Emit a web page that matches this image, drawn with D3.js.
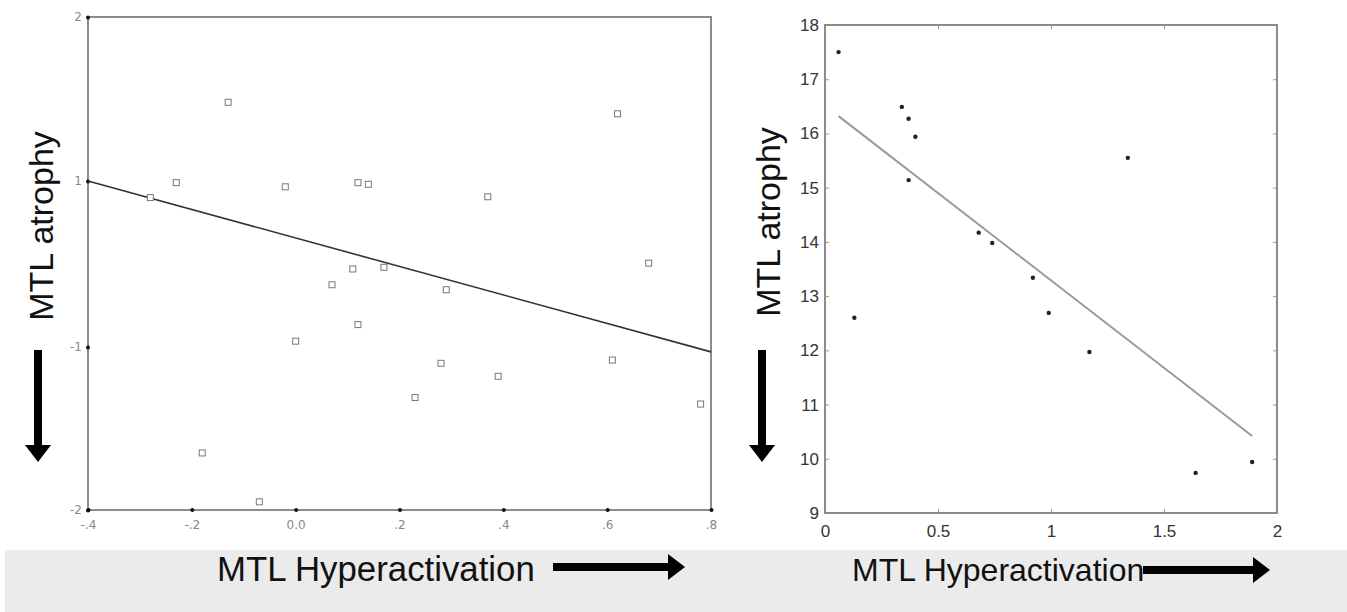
<!DOCTYPE html>
<html>
<head>
<meta charset="utf-8">
<script src="https://cdn.jsdelivr.net/npm/d3@7"></script>
<style>
  body { margin: 0; background: #fff; }
  svg { display: block; font-family: "Liberation Sans", Arial, sans-serif; }
</style>
</head>
<body>
<div id="chart"></div>
<script>
// left panel: MTL hyperactivation vs atrophy (square markers)
var leftX = [-0.13, -0.28, -0.23, -0.02, 0.12, 0.14, 0.07, 0.11, 0.17, 0.12, 0.00,
             -0.18, -0.07, 0.29, 0.37, 0.62, 0.68, 0.23, 0.28, 0.39, 0.61, 0.78];
var leftY = [1.48, 0.80, 0.98, 0.93, 0.98, 0.96, -0.25, -0.06, -0.04, -0.73, -0.93,
             -1.65, -1.95, -0.31, 0.81, 1.41, 0.01, -1.31, -1.10, -1.18, -1.08, -1.35];
var leftFitX = [-0.4, 0.8];
var leftFitY = [1.0, -1.03];
var leftXTicks = [-0.4, -0.2, 0, 0.2, 0.4, 0.6, 0.8];
var leftXTickLabels = ["-.4", "-.2", "0.0", ".2", ".4", ".6", ".8"];
var leftYTicks = [-2, -1, 1, 2];
var leftYTickLabels = ["-2", "-1", "1", "2"];

// right panel: small filled dots
var rightX = [0.06, 0.34, 0.37, 0.40, 0.37, 1.34, 0.68, 0.74, 0.92, 0.13, 0.99, 1.17, 1.64, 1.89];
var rightY = [17.5, 16.49, 16.27, 15.94, 15.14, 15.55, 14.17, 13.98, 13.34, 12.6, 12.69, 11.97, 9.74, 9.94];
var rightFitX = [0.06, 1.89];
var rightFitY = [16.32, 10.42];
var rightXTicks = [0, 0.5, 1, 1.5, 2];
var rightYTicks = [9, 10, 11, 12, 13, 14, 15, 16, 17, 18];

var W = 1347, H = 612;
var svg = d3.select("#chart").append("svg")
    .attr("width", W)
    .attr("height", H);

svg.append("rect").attr("width", W).attr("height", H).attr("fill", "#fff");
// grey band under both charts
svg.append("rect")
    .attr("x", 5).attr("y", 550)
    .attr("width", W - 5).attr("height", H - 550)
    .attr("fill", "#ebebeb");

function arrow(g, x1, y1, x2, y2) {
    // thick arrow, shaft plus triangular head
    let len = Math.hypot(x2 - x1, y2 - y1);
    let ang = Math.atan2(y2 - y1, x2 - x1) * 180 / Math.PI;
    let a = g.append("g")
        .attr("transform", "translate(" + x1 + "," + y1 + ") rotate(" + ang + ")");
    a.append("path")
        .attr("d", "M0,-4 L" + (len - 17) + ",-4 L" + (len - 17) + ",-13 L" + len + ",0 L" +
            (len - 17) + ",13 L" + (len - 17) + ",4 L0,4 Z")
        .attr("fill", "#000");
}

// ---------- left chart ----------
let lm = { left: 88, right: 711, top: 17, bottom: 510 };
let xL = d3.scaleLinear().domain([-0.4, 0.8]).range([lm.left, lm.right]);
// labels on the y axis are evenly spaced but skip 0
let yL = d3.scaleLinear().domain([-2, -1, 1, 2]).range([lm.bottom, 347, 181, lm.top]);

let gl = svg.append("g");

gl.append("rect")
    .attr("x", lm.left).attr("y", lm.top)
    .attr("width", lm.right - lm.left).attr("height", lm.bottom - lm.top)
    .attr("fill", "none")
    .attr("stroke", "#8c8c8c")
    .attr("stroke-width", 2);

let lxAxis = gl.append("g")
    .attr("transform", "translate(0," + lm.bottom + ")")
    .call(d3.axisBottom(xL).tickValues(leftXTicks).tickSize(0).tickPadding(10)
        .tickFormat(function (d, i) { return leftXTickLabels[i]; }));
lxAxis.select(".domain").remove();
lxAxis.selectAll(".tick").append("circle").attr("r", 2).attr("fill", "#111");

let lyAxis = gl.append("g")
    .attr("transform", "translate(" + lm.left + ",0)")
    .call(d3.axisLeft(yL).tickValues(leftYTicks).tickSize(0).tickPadding(6)
        .tickFormat(function (d, i) { return leftYTickLabels[i]; }));
lyAxis.select(".domain").remove();
lyAxis.selectAll(".tick").append("circle").attr("r", 2).attr("fill", "#111");
gl.selectAll(".tick text")
    .attr("font-size", 12)
    .attr("font-family", "'DejaVu Sans', sans-serif")
    .attr("fill", "#888");

gl.append("line")
    .attr("x1", xL(leftFitX[0])).attr("y1", yL(leftFitY[0]))
    .attr("x2", xL(leftFitX[1])).attr("y2", yL(leftFitY[1]))
    .attr("stroke", "#333")
    .attr("stroke-width", 1.6);

gl.selectAll(".sq")
    .data(leftX)
    .enter()
    .append("rect")
    .attr("class", "sq")
    .attr("x", function (d) { return xL(d) - 3; })
    .attr("y", function (d, i) { return yL(leftY[i]) - 3; })
    .attr("width", 6)
    .attr("height", 6)
    .attr("fill", "#fff")
    .attr("stroke", "#777")
    .attr("stroke-width", 1);

gl.append("text")
    .attr("transform", "translate(53,226) rotate(-90)")
    .attr("text-anchor", "middle")
    .attr("font-size", 34)
    .attr("fill", "#111")
    .text("MTL atrophy");

gl.append("text")
    .attr("x", 217).attr("y", 581)
    .attr("font-size", 34.8)
    .attr("fill", "#111")
    .text("MTL Hyperactivation");

arrow(gl, 38, 350, 38, 462);
arrow(gl, 553, 567, 685, 567);

// ---------- right chart ----------
let rm = { left: 825, right: 1277, top: 25, bottom: 513 };
let xR = d3.scaleLinear().domain([0, 2]).range([rm.left, rm.right]);
let yR = d3.scaleLinear().domain([9, 18]).range([rm.bottom, rm.top]);

let gr = svg.append("g");

gr.append("g")
    .attr("class", "rax")
    .attr("transform", "translate(0," + rm.bottom + ")")
    .call(d3.axisBottom(xR).tickValues(rightXTicks).tickSize(-4).tickPadding(12)
        .tickFormat(d3.format("")));
gr.append("g")
    .attr("class", "rax")
    .attr("transform", "translate(" + rm.left + ",0)")
    .call(d3.axisLeft(yR).tickValues(rightYTicks).tickSize(-4).tickPadding(6));
gr.append("g")
    .attr("class", "rax")
    .attr("transform", "translate(0," + rm.top + ")")
    .call(d3.axisTop(xR).tickValues(rightXTicks).tickSize(-4).tickFormat(""));
gr.append("g")
    .attr("class", "rax")
    .attr("transform", "translate(" + rm.right + ",0)")
    .call(d3.axisRight(yR).tickValues(rightYTicks).tickSize(-4).tickFormat(""));

gr.selectAll(".rax .domain").remove();
gr.selectAll(".rax .tick line").attr("stroke", "#999");
gr.selectAll(".rax .tick text")
    .attr("font-size", 17)
    .attr("font-family", "'Liberation Sans', Arial, sans-serif")
    .attr("fill", "#333");

gr.append("rect")
    .attr("x", rm.left).attr("y", rm.top)
    .attr("width", rm.right - rm.left).attr("height", rm.bottom - rm.top)
    .attr("fill", "none")
    .attr("stroke", "#8c8c8c")
    .attr("stroke-width", 2);

gr.append("line")
    .attr("x1", xR(rightFitX[0])).attr("y1", yR(rightFitY[0]))
    .attr("x2", xR(rightFitX[1])).attr("y2", yR(rightFitY[1]))
    .attr("stroke", "#9a9a9a")
    .attr("stroke-width", 2);

gr.selectAll(".dot")
    .data(rightX)
    .enter()
    .append("circle")
    .attr("class", "dot")
    .attr("cx", function (d) { return xR(d); })
    .attr("cy", function (d, i) { return yR(rightY[i]); })
    .attr("r", 2.2)
    .attr("fill", "#222");

gr.append("text")
    .attr("transform", "translate(780,222) rotate(-90)")
    .attr("text-anchor", "middle")
    .attr("font-size", 34)
    .attr("fill", "#111")
    .text("MTL atrophy");

gr.append("text")
    .attr("x", 852).attr("y", 581)
    .attr("font-size", 32)
    .attr("fill", "#111")
    .text("MTL Hyperactivation");

arrow(gr, 762, 350, 762, 462);
arrow(gr, 1143, 570, 1270, 570);
</script>
</body>
</html>
